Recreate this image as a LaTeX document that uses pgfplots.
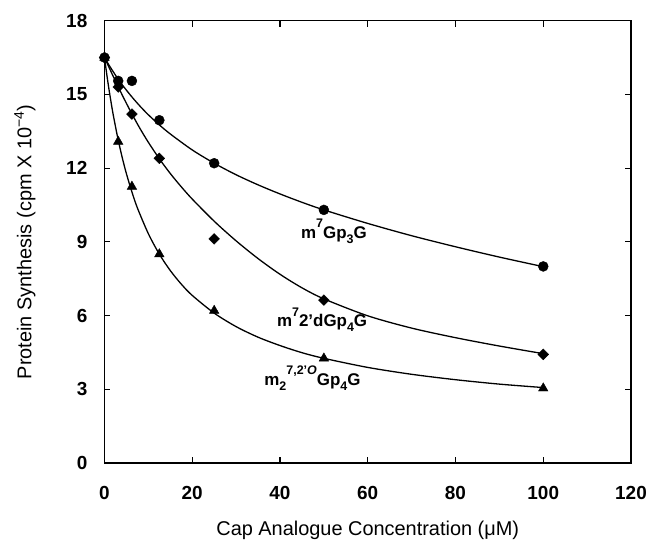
\documentclass[border=0pt]{standalone}
\usepackage{pgfplots}
\usepackage{pgfplotstable}
\pgfplotsset{compat=1.18}
\usepackage{fontspec}
\setmainfont{Liberation Sans}

\newcommand{\upx}[1]{\raisebox{0.62em}{\fontsize{12.5}{12.5}\selectfont #1}}
\newcommand{\dnx}[1]{\raisebox{-0.3em}{\fontsize{12.5}{12.5}\selectfont #1}}

% measured points
\pgfplotstableread{
x y
0 16.5
3.125 15.55
6.25 15.55
12.5 13.95
25 12.2
50 10.3
100 8.0
}\circpts
\pgfplotstableread{
x y
0 16.5
3.125 15.3
6.25 14.2
12.5 12.4
25 9.12
50 6.63
100 4.42
}\diampts
\pgfplotstableread{
x y
0 16.5
3.125 13.08
6.25 11.25
12.5 8.5
25 6.2
50 4.26
100 3.04
}\tripts

% fitted curves
\pgfplotstableread{
x y
0 16.5
1 16.20
2 15.92
3 15.65
4 15.40
6 14.95
8 14.54
10 14.17
12.5 13.76
15 13.39
20 12.74
25 12.20
30 11.73
35 11.32
40 10.95
45 10.61
50 10.30
60 9.75
70 9.25
80 8.80
90 8.38
100 7.99
}\circfit
\pgfplotstableread{
x y
0 16.5
2 15.73
4 14.99
6 14.29
8 13.64
10 13.05
12.5 12.38
15 11.78
17.5 11.24
20 10.74
25 9.84
30 9.04
35 8.32
40 7.68
45 7.13
50 6.68
60 5.99
70 5.49
80 5.10
90 4.76
100 4.45
}\diamfit
\pgfplotstableread{
x y
0 16.5
0.5 15.84
1 15.23
1.5 14.68
2 14.16
3 13.25
4 12.46
5 11.77
6.25 11.03
7.5 10.38
10 9.33
12.5 8.50
15 7.83
17.5 7.28
20 6.82
25 6.10
30 5.55
35 5.12
40 4.78
45 4.49
50 4.26
60 3.89
70 3.61
80 3.39
90 3.21
100 3.07
}\trifit

\begin{document}
\begin{tikzpicture}
\path[use as bounding box] (-104.5bp,-82bp) rectangle (543.5bp,463bp);
\begin{axis}[
  at={(0,0)}, anchor=south west,
  scale only axis, width=526.5bp, height=442.3bp,
  xmin=0, xmax=120, ymin=0, ymax=18,
  xtick={0,20,...,120}, ytick={0,3,...,18},
  tick align=inside, major tick length=6bp,
  axis line style={line width=1.5bp},
  tick style={line width=1.2bp, black},
  /pgf/number format/assume math mode=true,
  tick label style={font=\fontsize{19}{19}\selectfont\bfseries, inner sep=0pt},
  yticklabel style={anchor=east, xshift=-17bp},
  xticklabel style={anchor=center, yshift=-29.7bp},
  xlabel={Cap Analogue Concentration (μM)},
  ylabel={Protein Synthesis (cpm X 10\textsuperscript{−4})},
  every axis x label/.style={at={(axis description cs:0.5,-0.1514)}, anchor=center, font=\fontsize{20}{20}\selectfont},
  every axis y label/.style={at={(axis description cs:-0.151,0.5)}, anchor=center, rotate=90, font=\fontsize{20}{20}\selectfont},
  clip=false,
]
\addplot[black, line width=1.3bp, smooth, no markers] table {\circfit};
\addplot[black, line width=1.3bp, smooth, no markers] table {\diamfit};
\addplot[black, line width=1.3bp, smooth, no markers] table {\trifit};
\addplot[only marks, mark=square*, mark size=3.8bp, mark options={rotate=45, fill=black, draw=black}] table {\diampts};
\addplot[only marks, mark=triangle*, mark size=5.5bp, mark options={fill=black, draw=black}] table {\tripts};
\addplot[only marks, mark=*, mark size=5bp, mark options={fill=black, draw=black}] table {\circpts};

\node[anchor=base, font=\fontsize{17}{17}\selectfont\bfseries] at (axis cs:52.3,9.14) {m\upx{7}Gp\dnx{3}G};
\node[anchor=base, font=\fontsize{17}{17}\selectfont\bfseries] at (axis cs:49.6,5.55) {m\upx{7}2’dGp\dnx{4}G};
\node[anchor=base, font=\fontsize{17}{17}\selectfont\bfseries] at (axis cs:47.4,3.17) {m\dnx{2}\upx{7,2’\textit{O}}Gp\dnx{4}G};
\end{axis}
\end{tikzpicture}
\end{document}
